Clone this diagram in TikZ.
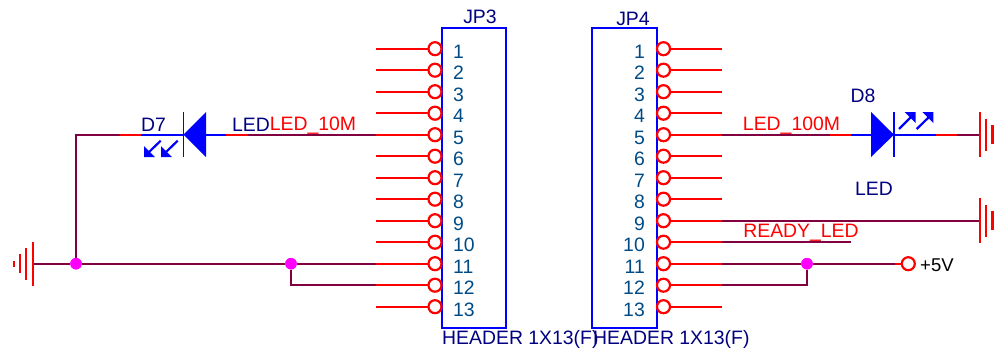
\documentclass[tikz,border=0pt]{standalone}
\usepackage{fontspec}
\setmainfont{Liberation Sans}
\usetikzlibrary{arrows}

\definecolor{wirepurple}{HTML}{800040}
\definecolor{labelnavy}{HTML}{000080}
\definecolor{pinblue}{HTML}{004B85}
\definecolor{dotmagenta}{HTML}{FF00FF}

\tikzset{
	wire/.style={wirepurple, line width=2.2pt},
	pinwire/.style={red, line width=2.2pt},
	bluewire/.style={blue, line width=2.2pt},
	pinhole/.style={circle, draw=red, fill=white, line width=2.2pt, inner sep=0pt, outer sep=0pt, minimum size=13pt},
	junction/.style={circle, fill=dotmagenta, inner sep=0pt, minimum size=11.5pt},
	header/.style={draw=blue, line width=2.2pt, inner sep=0pt, outer sep=0pt},
	label/.style={inner sep=0pt, text=labelnavy, font=\fontsize{19.4}{20}\selectfont},
	netlabel/.style={inner sep=0pt, text=red, font=\fontsize{19.4}{20}\selectfont},
	pinlabel/.style={inner sep=0pt, text=pinblue, font=\fontsize{19.4}{20}\selectfont},
}

\begin{document}
\begin{tikzpicture}[x=1pt, y=-1pt]
	\useasboundingbox (0, 0) rectangle (998, 354);

	% headers
	\node[header, minimum width=64.5pt, minimum height=300.5pt] (JP3) at (474, 178) {};
	\node[header, minimum width=64.5pt, minimum height=300.5pt] (JP4) at (624.5, 178) {};
	\node[label] (jp3name) at (480, 17) {JP3};
	\node[label] (jp4name) at (633, 19) {JP4};
	\node[label, anchor=west] (jp3type) at (442, 339.5) {HEADER 1X13(F)};
	\node[label, anchor=west] (jp4type) at (593, 339.5) {HEADER 1X13(F)};

	% pins of both headers
	\foreach \i in {1, ..., 13} {
		\pgfmathsetmacro{\ypin}{48.7 + 21.5 * (\i - 1)}
		\node[pinhole] (a\i) at (435, \ypin) {};
		\coordinate (al\i) at (376, \ypin);
		\draw[pinwire] (a\i) -- (al\i);
		\node[pinlabel, anchor=west] (an\i) at (453, \ypin + 2.8) {\i};
		\node[pinhole] (b\i) at (663.5, \ypin) {};
		\coordinate (br\i) at (722, \ypin);
		\draw[pinwire] (b\i) -- (br\i);
		\node[pinlabel, anchor=east] (bn\i) at (645, \ypin + 2.8) {\i};
	}

	% wiring on the left
	\coordinate (corner) at (76, 134.7);
	\coordinate (d7a) at (120, 134.7);
	\coordinate (d7b) at (141, 134.7);
	\coordinate (d7k) at (183.5, 134.7);
	\coordinate (d7c) at (206, 134.7);
	\coordinate (d7d) at (226, 134.7);
	\coordinate (d7e) at (248, 134.7);
	\coordinate (gnd1) at (33, 263.7);
	\node[junction] (j1) at (76, 263.7) {};
	\node[junction] (j2) at (291, 263.7) {};
	\coordinate (j2d) at (291, 285.2);

	\draw[wire] (al5) -- (d7e);
	\draw[pinwire] (d7e) -- (d7d);
	\draw[bluewire] (d7d) -- (d7c);
	\draw[bluewire] (d7k) -- (d7b);
	\draw[pinwire] (d7b) -- (d7a);
	\draw[wire] (d7a) -- (corner) -- (j1);
	\draw[wire] (gnd1) -- (j1) -- (j2) -- (al11);
	\draw[wire] (j2) -- (j2d) -- (al12);
	\node[junction] at (j1) {};
	\node[junction] at (j2) {};

	% D7
	\fill[blue] (183.5, 134.7) -- (206, 112) -- (206, 157) -- cycle;
	\draw[blue, line width=1.6pt] (183.5, 112) -- (183.5, 157);
	\draw[blue, line width=2.2pt] (160.7, 140.7) -- (148, 153) (177.7, 140.7) -- (165, 153);
	\fill[blue] (144, 157) -- (144, 146) -- (155, 157) -- cycle;
	\fill[blue] (161, 157) -- (161, 146) -- (172, 157) -- cycle;
	\node[label] (d7name) at (153.5, 125) {D7};
	\node[label] (d7type) at (251, 125) {LED};
	\node[netlabel] (net10) at (313, 126) {LED\_10M};

	% ground on the left
	\draw[pinwire] (33, 242) -- (33, 286) (26, 248) -- (26, 280) (20, 254) -- (20, 273) (13.7, 261) -- (13.7, 267);

	% wiring on the right
	\coordinate (d8a) at (830, 134.7);
	\coordinate (d8b) at (851, 134.7);
	\coordinate (d8c) at (871, 134.7);
	\coordinate (d8k) at (894, 134.7);
	\coordinate (d8d) at (936, 134.7);
	\coordinate (d8e) at (957, 134.7);
	\coordinate (gnd2) at (980, 134.7);
	\coordinate (gnd3) at (980, 220.7);
	\coordinate (readyend) at (851, 242.2);
	\node[junction] (j3) at (807, 263.7) {};
	\coordinate (j3d) at (807, 285.2);
	\node[pinhole] (vcc) at (908.3, 263.7) {};

	\draw[wire] (br5) -- (d8a);
	\draw[pinwire] (d8a) -- (d8b);
	\draw[bluewire] (d8b) -- (d8c);
	\draw[bluewire] (d8k) -- (d8d);
	\draw[pinwire] (d8d) -- (d8e);
	\draw[wire] (d8e) -- (gnd2);
	\draw[wire] (br9) -- (gnd3);
	\draw[wire] (br10) -- (readyend);
	\draw[wire] (br11) -- (j3) -- (vcc);
	\draw[pinwire] (895, 263.7) -- (vcc);
	\draw[wire] (j3) -- (j3d) -- (br12);
	\node[junction] at (j3) {};

	% D8
	\fill[blue] (894, 134.7) -- (871, 112) -- (871, 157) -- cycle;
	\draw[blue, line width=1.6pt] (894, 112) -- (894, 157);
	\draw[blue, line width=2.2pt] (899, 129) -- (911, 117) (916.7, 129) -- (929, 117);
	\fill[blue] (915.7, 112) -- (915.7, 123) -- (904.7, 112) -- cycle;
	\fill[blue] (933.3, 112) -- (933.3, 123) -- (922.3, 112) -- cycle;
	\node[label] (d8name) at (863, 96) {D8};
	\node[label] (d8type) at (874, 188.5) {LED};
	\node[netlabel] (net100) at (791.5, 126) {LED\_100M};
	\node[netlabel] (netready) at (801, 233) {READY\_LED};
	\node[inner sep=0pt, font=\fontsize{18.5}{20}\selectfont, anchor=west] (vccname) at (920, 265) {+5V};

	% grounds on the right
	\foreach \ygnd in {134.7, 220.7} {
		\draw[pinwire] (979.7, \ygnd - 22.7) -- (979.7, \ygnd + 22.3)
			(986, \ygnd - 16) -- (986, \ygnd + 16)
			(992.5, \ygnd - 9.5) -- (992.5, \ygnd + 9.5)
			(998.6, \ygnd - 3) -- (998.6, \ygnd + 3);
	}
\end{tikzpicture}
\end{document}
